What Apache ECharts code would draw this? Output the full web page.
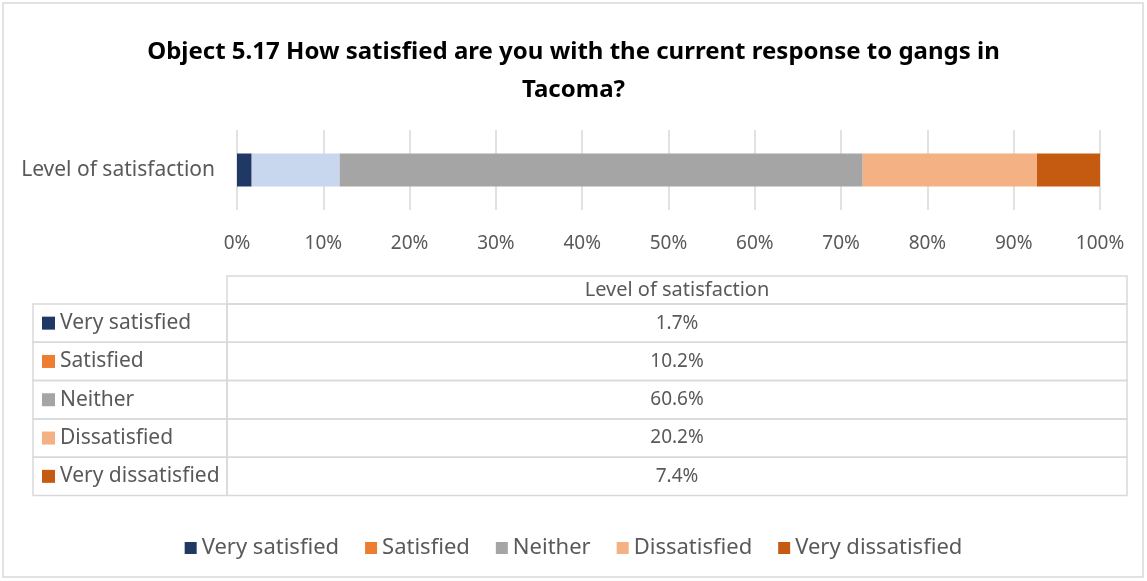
<!DOCTYPE html>
<html>
<head>
<meta charset="utf-8">
<script src="https://cdn.jsdelivr.net/npm/echarts@6/dist/echarts.min.js"></script>
<style>
  html, body { margin: 0; padding: 0; background: #fff; }
  #chart { width: 1147px; height: 581px; }
</style>
</head>
<body>
<div id="chart"></div>
<script>
var categories = ['Level of satisfaction'];
var seriesNames = ['Very satisfied', 'Satisfied', 'Neither', 'Dissatisfied', 'Very dissatisfied'];
var seriesValues = [1.7, 10.2, 60.6, 20.2, 7.4];
var tableLabels = ['1.7%', '10.2%', '60.6%', '20.2%', '7.4%'];
// legend colours (Excel palette); the "Satisfied" segment is drawn light blue in the bar
var legendColors = ['#203864', '#ED7D31', '#A5A5A5', '#F4B183', '#C55A11'];
var barColors = ['#203864', '#C9D7EE', '#A5A5A5', '#F4B183', '#C55A11'];

var font = 'Noto Sans';
var textGrey = '#595959';
var lineGrey = '#D9D9D9';

var series = seriesNames.map(function (name, i) {
    return {
        name: name,
        type: 'bar',
        stack: 'total',
        barWidth: 33,
        itemStyle: {color: legendColors[i]},
        data: [{value: seriesValues[i], itemStyle: {color: barColors[i]}}]
    };
});

// data table under the axis
var tblLeft = 33, tblCol = 227, tblRight = 1127;
var tblTop = 276, headH = 28, rowH = 38.3;
var graphics = [
    {type: 'rect', shape: {x: 3, y: 3, width: 1140, height: 574}, style: {fill: 'none', stroke: lineGrey, lineWidth: 1.5}, silent: true},
    {type: 'rect', shape: {x: tblCol, y: tblTop, width: tblRight - tblCol, height: headH}, style: {fill: 'none', stroke: lineGrey, lineWidth: 1.5}},
    {type: 'text', x: (tblCol + tblRight) / 2, y: tblTop + headH / 2, style: {text: categories[0], fill: textGrey, font: '20px "' + font + '"', align: 'center', verticalAlign: 'middle'}}
];
seriesNames.forEach(function (name, i) {
    var y = tblTop + headH + i * rowH;
    graphics.push(
        {type: 'rect', shape: {x: tblLeft, y: y, width: tblCol - tblLeft, height: rowH}, style: {fill: 'none', stroke: lineGrey, lineWidth: 1.5}},
        {type: 'rect', shape: {x: tblCol, y: y, width: tblRight - tblCol, height: rowH}, style: {fill: 'none', stroke: lineGrey, lineWidth: 1.5}},
        {type: 'rect', shape: {x: 42, y: y + rowH / 2 - 6.5, width: 13, height: 13}, style: {fill: legendColors[i]}},
        {type: 'text', x: 60, y: y + rowH / 2, style: {text: name, fill: textGrey, font: '21px "' + font + '"', verticalAlign: 'middle'}},
        {type: 'text', x: (tblCol + tblRight) / 2, y: y + rowH / 2, style: {text: tableLabels[i], fill: textGrey, font: '19px "' + font + '"', align: 'center', verticalAlign: 'middle'}}
    );
});

var option = {
    animation: false,
    backgroundColor: '#fff',
    textStyle: {fontFamily: font},
    title: {
        text: 'Object 5.17 How satisfied are you with the current response to gangs in\nTacoma?',
        left: 'center',
        top: 28,
        textStyle: {fontFamily: font, fontSize: 24, fontWeight: 'bold', color: '#000', lineHeight: 38}
    },
    legend: {
        bottom: 17,
        left: 'center',
        icon: 'rect',
        itemWidth: 12,
        itemHeight: 12,
        itemGap: 26,
        textStyle: {fontFamily: font, fontSize: 22, color: textGrey},
        data: seriesNames
    },
    grid: {left: 237, right: 47, top: 130, height: 80, containLabel: false},
    xAxis: {
        type: 'value',
        min: 0,
        max: 100,
        interval: 10,
        axisLine: {show: false},
        axisTick: {show: false},
        splitLine: {show: true, lineStyle: {color: lineGrey, width: 1.5}},
        axisLabel: {formatter: '{value}%', color: textGrey, fontSize: 19, margin: 24}
    },
    yAxis: {
        type: 'category',
        data: categories,
        axisLine: {show: false},
        axisTick: {show: false},
        axisLabel: {color: textGrey, fontSize: 21, margin: 22}
    },
    series: series,
    graphic: graphics
};

var chart = echarts.init(document.getElementById('chart'));
chart.setOption(option);
</script>
</body>
</html>
